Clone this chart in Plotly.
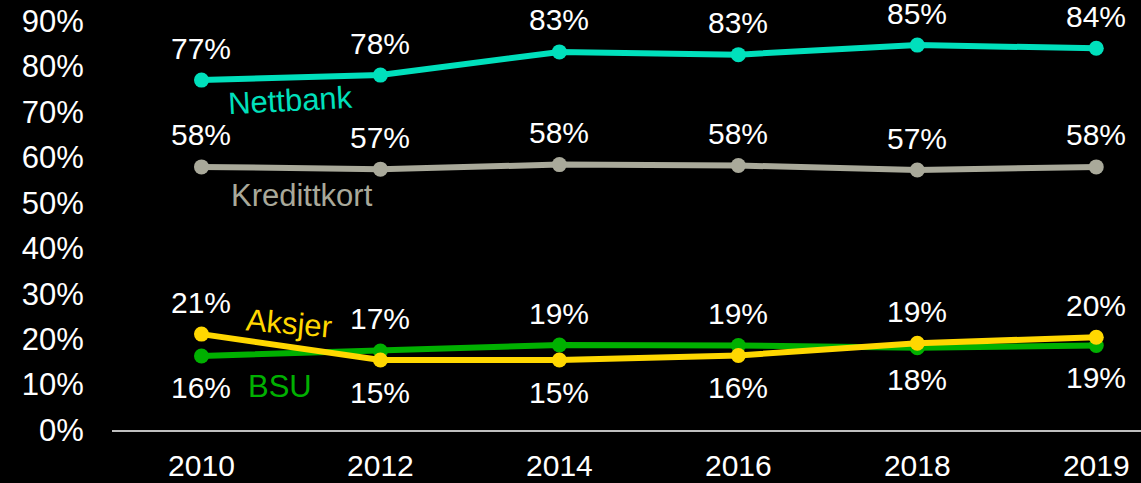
import plotly.graph_objects as go

years = ["2010", "2012", "2014", "2016", "2018", "2019"]
nettbank = [77.0, 78.1, 83.2, 82.6, 84.7, 84.0]
kredittkort = [57.9, 57.4, 58.4, 58.2, 57.2, 57.9]
aksjer = [21.1, 15.4, 15.4, 16.4, 19.1, 20.4]
bsu = [16.3, 17.4, 18.7, 18.6, 18.1, 18.6]
y_ticks = [0, 10, 20, 30, 40, 50, 60, 70, 80, 90]

FONT = "Liberation Sans, Arial, sans-serif"
C_NETT = "#00E0BC"
C_KRED = "#A9A99A"
C_AKS = "#FFD700"
C_BSU = "#00B000"

# (name, values, colour, label side per point: +1 above / -1 below)
series = [
    ("Nettbank", nettbank, C_NETT, [1, 1, 1, 1, 1, 1]),
    ("Kredittkort", kredittkort, C_KRED, [1, 1, 1, 1, 1, 1]),
    ("BSU", bsu, C_BSU, [-1, 1, 1, 1, -1, -1]),
    ("Aksjer", aksjer, C_AKS, [1, -1, -1, -1, 1, 1]),
]

fig = go.Figure()
annotations = []
for name, vals, col, sides in series:
    fig.add_trace(go.Scatter(
        x=years, y=vals, mode="lines+markers", name=name,
        line=dict(color=col, width=6),
        marker=dict(color=col, size=15),
        cliponaxis=False, showlegend=False,
    ))
    for i, (v, s) in enumerate(zip(vals, sides)):
        annotations.append(dict(
            x=i, y=v, xref="x", yref="y", text=f"{round(v)}%",
            showarrow=False, yshift=32 * s,
            font=dict(family=FONT, size=30, color="white"),
        ))

# series names written next to the lines
name_labels = [
    ("Nettbank", C_NETT, 0.5, 72.6, -3),
    ("Kredittkort", C_KRED, 0.56, 51.6, 0),
    ("Aksjer", C_AKS, 0.49, 23.5, 5),
    ("BSU", C_BSU, 0.44, 9.6, 0),
]
for txt, col, xp, yp, ang in name_labels:
    annotations.append(dict(
        x=xp, y=yp, xref="x", yref="y", text=txt, showarrow=False,
        textangle=ang, font=dict(family=FONT, size=31, color=col),
    ))

fig.update_layout(
    width=1141, height=483,
    margin=dict(l=112, r=0, t=21, b=53),
    paper_bgcolor="black", plot_bgcolor="black",
    font=dict(family=FONT, size=31, color="white"),
    annotations=annotations,
    xaxis=dict(
        type="category", range=[-0.5, 5.25], automargin=False,
        showgrid=False, zeroline=False,
        showline=True, linecolor="#BFBFBF", linewidth=2,
        ticks="outside", ticklen=8, tickcolor="rgba(0,0,0,0)",
        tickfont=dict(family=FONT, size=30, color="white"),
    ),
    yaxis=dict(
        range=[0, 90], tickvals=y_ticks, automargin=False,
        ticktext=[f"{t}%" for t in y_ticks],
        showgrid=False, zeroline=False, showline=False,
        ticks="outside", ticklen=21, tickcolor="rgba(0,0,0,0)",
        tickfont=dict(family=FONT, size=31, color="white"),
    ),
)

fig.write_html("out.html")
